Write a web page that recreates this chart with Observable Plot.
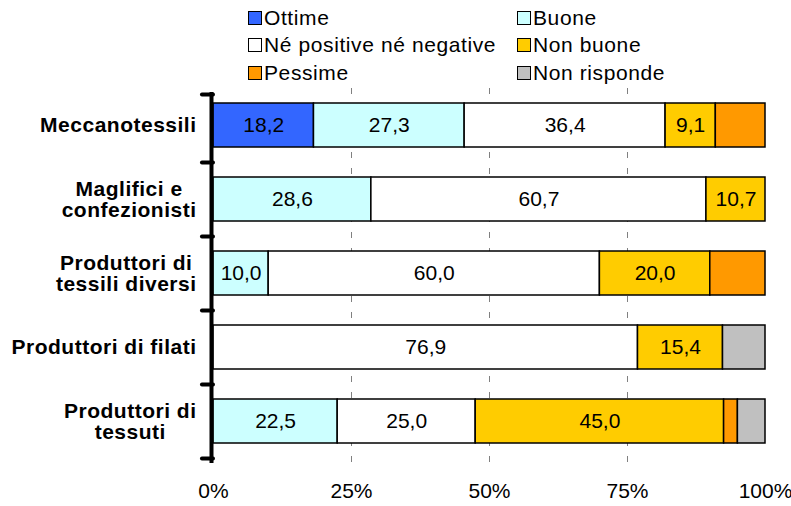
<!DOCTYPE html>
<html><head><meta charset="utf-8">
<script src="https://cdn.jsdelivr.net/npm/d3@7"></script>
<script src="https://cdn.jsdelivr.net/npm/@observablehq/plot@0.6"></script>
<style>
body{margin:0;background:#fff;font-family:"Liberation Sans",Arial,sans-serif;}
#wrap{position:relative;width:791px;height:506px;}
#legend{position:absolute;left:248px;top:4px;display:grid;grid-template-columns:269px auto;grid-auto-rows:27.5px;font-size:21px;letter-spacing:0.6px;color:#000;}
.item{display:flex;align-items:center;white-space:nowrap;}
.sw{width:12px;height:12px;border:1px solid #000;margin-right:2px;flex:none;}
</style></head><body>
<div id="wrap"><div id="legend"></div><div id="chart"></div></div>
<script>
// ---- data ----
const categories = ["Meccanotessili", "Maglifici e\nconfezionisti", "Produttori di\ntessili diversi", "Produttori di filati", "Produttori di\ntessuti"];
const responses = ["Ottime", "Buone", "Né positive né negative", "Non buone", "Pessime", "Non risponde"];
const colors = ["#3366FF", "#CCFFFF", "#FFFFFF", "#FFCC00", "#FF9900", "#C0C0C0"];
const labeledResponses = ["Ottime", "Buone", "Né positive né negative", "Non buone"];
const meccanotessili = [18.2, 27.3, 36.4, 9.1, 9.0, 0];
const maglifici = [0, 28.6, 60.7, 10.7, 0, 0];
const tessiliDiversi = [0, 10.0, 60.0, 20.0, 10.0, 0];
const filati = [0, 0, 76.9, 15.4, 0, 7.7];
const tessuti = [0, 22.5, 25.0, 45.0, 2.5, 5.0];
const xTicks = [0, 25, 50, 75, 100];
const gridTicks = [25, 50, 75];

const seriesByCategory = [meccanotessili, maglifici, tessiliDiversi, filati, tessuti];
const data = [];
categories.forEach((cat, i) => responses.forEach((resp, j) => {
  const v = seriesByCategory[i][j];
  if (v > 0) data.push({cat, resp, value: v});
}));

// ---- legend ----
const legend = document.getElementById("legend");
responses.forEach((r, i) => {
  const it = document.createElement("div"); it.className = "item";
  const sw = document.createElement("span"); sw.className = "sw"; sw.style.background = colors[i];
  const tx = document.createElement("span"); tx.textContent = r;
  it.append(sw, tx); legend.append(it);
});

// ---- chart ----
const W = 791, H = 506, mt = 88, mb = 47, ml = 213, mr = 26;
const step = (H - mt - mb) / categories.length;
const fmt = v => d3.format(".1f")(v).replace(".", ",");
const font = '"Liberation Sans", Arial, sans-serif';
const labelPad = 17, labelSpacing = 0.5;

// measure bold label lines so each multi-line label is centred within a right-aligned block
const ctx = document.createElement("canvas").getContext("2d");
ctx.font = `bold 21px ${font}`;
const blockWidth = c => Math.max(...c.split("\n").map(l => ctx.measureText(l).width + labelSpacing * l.length));

const yAxes = categories.map(c => Plot.axisY({
  ticks: [c], tickSize: 0, tickPadding: 0, textAnchor: "middle",
  dx: -(labelPad + blockWidth(c) / 2), fontWeight: "bold", fontSize: 21, label: null
}));

const chart = Plot.plot({
  width: W, height: H, marginTop: mt, marginBottom: mb, marginLeft: ml, marginRight: mr,
  style: {fontFamily: font, fontSize: "21px", color: "#000", background: "#fff", overflow: "visible"},
  x: {domain: [0, 100]},
  y: {domain: categories, paddingInner: 0.4, paddingOuter: 0.2},
  color: {domain: responses, range: colors},
  marks: [
    Plot.ruleX(gridTicks, {stroke: "#808080", strokeDasharray: "6,10", insetBottom: -4}),
    Plot.barX(data, Plot.stackX({x: "value", y: "cat", fill: "resp", stroke: "#000", strokeWidth: 1.5})),
    Plot.textX(data, Plot.stackX({x: "value", y: "cat", z: "resp",
      text: d => labeledResponses.includes(d.resp) ? fmt(d.value) : null, fill: "#000", fontSize: 21})),
    Plot.ruleX([0], {stroke: "#000", strokeWidth: 4, dx: -2, insetBottom: -4, insetTop: 4}),
    Plot.ruleY(categories.slice(1), {x1: -2, x2: 0, dy: -step / 2, stroke: "#000", strokeWidth: 4, strokeLinecap: "round"}),
    Plot.ruleY([categories[0]], {x1: -2, x2: 0, dy: -step / 2 + 6, stroke: "#000", strokeWidth: 4, strokeLinecap: "round"}),
    Plot.ruleY([categories[categories.length - 1]], {x1: -2, x2: 0, dy: step / 2, stroke: "#000", strokeWidth: 4, strokeLinecap: "round"}),
    Plot.axisX({ticks: xTicks, tickFormat: d => d + "%", tickSize: 0, tickPadding: 24, label: null, fontSize: 21}),
    ...yAxes
  ]
});
document.getElementById("chart").append(chart);
document.querySelectorAll('#chart svg g[aria-label^="y-axis tick label"]').forEach(g => g.setAttribute("letter-spacing", String(labelSpacing)));
</script>
</body></html>
